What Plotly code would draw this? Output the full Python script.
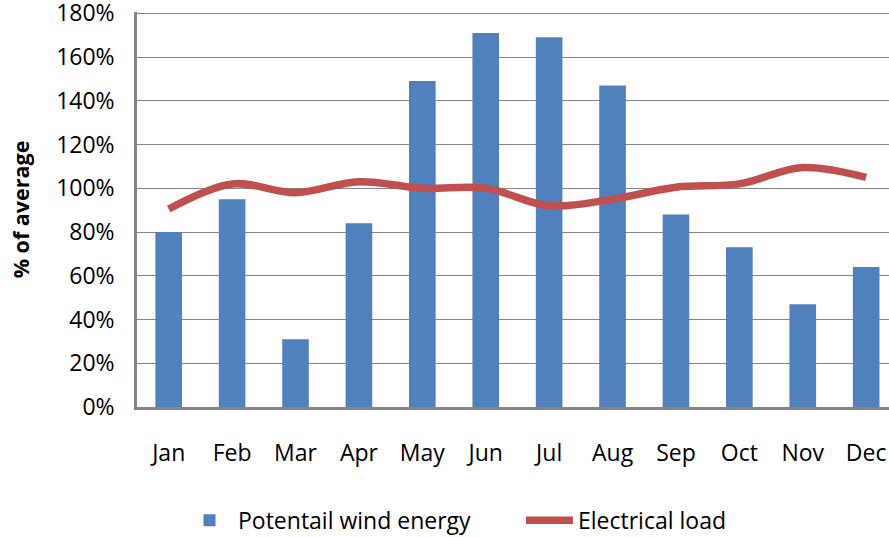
import plotly.graph_objects as go

months = ["Jan", "Feb", "Mar", "Apr", "May", "Jun", "Jul", "Aug", "Sep", "Oct", "Nov", "Dec"]
wind_energy = [80, 95, 31, 84, 149, 171, 169, 147, 88, 73, 47, 64]
electrical_load = [90.5, 102, 98, 103, 100, 100, 92, 95, 100.5, 102, 109.5, 105]
y_ticks = [0, 20, 40, 60, 80, 100, 120, 140, 160, 180]

FONT = "Open Sans"
GRID = "#868686"

fig = go.Figure()
fig.add_trace(go.Bar(
    x=months, y=wind_energy, name="Potentail wind energy",
    marker=dict(color="#4F81BD", line=dict(width=0)),
))
fig.add_trace(go.Scatter(
    x=months, y=electrical_load, name="Electrical load", mode="lines",
    line=dict(color="#C0504D", width=7.5, shape="spline", smoothing=1),
))

fig.update_layout(
    width=889, height=537,
    margin=dict(l=137, r=0, t=12, b=130, autoexpand=False),
    paper_bgcolor="white", plot_bgcolor="white",
    font=dict(family=FONT, size=23, color="#000000"),
    bargap=0.58,
    showlegend=True,
    legend=dict(
        orientation="h", x=0.0585, xanchor="left", y=-0.287, yanchor="middle",
        font=dict(family=FONT, size=23), itemwidth=47, traceorder="normal",
        entrywidth=278, entrywidthmode="pixels",
    ),
)
fig.update_xaxes(
    range=[-0.5, 11.36], showgrid=False, showline=True, linecolor=GRID, linewidth=2.5,
    ticks="", tickfont=dict(family=FONT, size=23), ticklabelstandoff=24,
    automargin=False,
)
fig.update_yaxes(
    range=[0, 180.6], tickvals=y_ticks, ticktext=[f"{v}%" for v in y_ticks],
    showgrid=True, gridcolor=GRID, gridwidth=1.3, zeroline=False,
    showline=True, linecolor=GRID, linewidth=2.5, ticks="",
    tickfont=dict(family=FONT, size=23), ticklabelstandoff=15,
    ticklabeloverflow="allow", automargin=False,
    title=dict(text="% of average", font=dict(family=FONT, size=21.5, weight="bold"), standoff=21),
)

fig.write_html(
    "out.html",
    config={"displayModeBar": False},
    post_script="document.body.style.margin='0px'; document.body.style.overflow='hidden';",
)
